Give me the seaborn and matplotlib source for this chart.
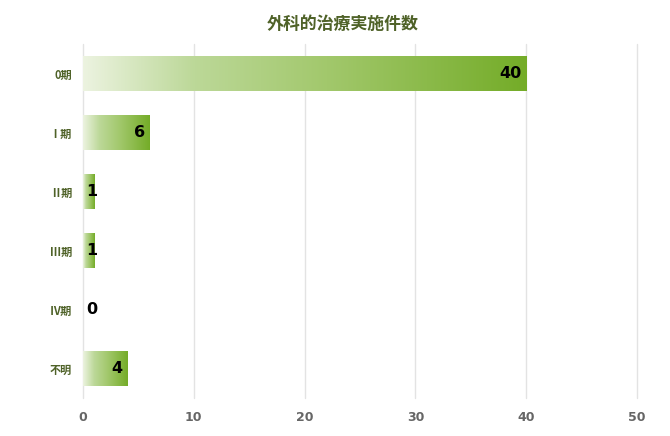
import numpy as np
import pandas as pd
import seaborn as sns
import matplotlib
matplotlib.use('Agg')
import matplotlib.pyplot as plt
from matplotlib.colors import LinearSegmentedColormap

stages = ['0期', 'Ⅰ期', 'Ⅱ期', 'Ⅲ期', 'Ⅳ期', '不明']
counts = [40, 6, 1, 1, 0, 4]
x_ticks = [0, 10, 20, 30, 40, 50]

df = pd.DataFrame({'stage': stages, 'count': counts})

sns.set_theme(style='white')
plt.rcParams['font.family'] = ['Noto Sans CJK JP', 'DejaVu Sans']

green = LinearSegmentedColormap.from_list(
    'grad', [(0.0, '#ecf3e0'), (0.25, '#bcd898'), (0.55, '#a2c86c'), (1.0, '#74ac28')])

fig = plt.figure(figsize=(6.7, 4.36), dpi=100)
ax = fig.add_axes([83 / 670, 1 - 398 / 436, 554 / 670, 354 / 436])

sns.barplot(data=df, x='count', y='stage', orient='h', width=0.58,
            color='#8fbf4f', ax=ax)

grad = np.linspace(0, 1, 256).reshape(1, -1)
for bar in ax.patches:
    x0, y0 = bar.get_x(), bar.get_y()
    w, h = bar.get_width(), bar.get_height()
    if w <= 0:
        bar.set_visible(False)
        continue
    bar.set_facecolor('none')
    bar.set_edgecolor('none')
    im = ax.imshow(grad, cmap=green, aspect='auto', extent=[x0, x0 + w, y0 + h, y0],
                   zorder=2, interpolation='bilinear')
    im.set_clip_path(bar)

for i, v in enumerate(counts):
    ax.text(max(v - 0.4, 1.3), i, str(v), ha='right', va='center',
            fontsize=11.5, fontweight='bold', color='black', family='DejaVu Sans', zorder=3)

ax.set_xlim(0, 50)
ax.set_ylim(5.5, -0.5)
ax.set_xticks(x_ticks)
ax.set_xticklabels([str(t) for t in x_ticks], fontsize=9, fontweight='bold',
                   color='#666666', family='DejaVu Sans')
ax.set_yticklabels(stages, fontsize=8, fontweight='bold', color='#4f6228')
ax.tick_params(axis='x', length=0, pad=9)
ax.tick_params(axis='y', length=0, pad=8)
ax.xaxis.grid(True, color='#e3e3e3', linewidth=1)
for gl in ax.get_xgridlines():
    gl.set_clip_on(False)
ax.set_axisbelow(True)
for s in ax.spines.values():
    s.set_visible(False)
ax.set_xlabel('')
ax.set_ylabel('')

fig.text(343 / 670, 1 - 24 / 436, '外科的治療実施件数', ha='center', va='center',
         fontsize=12.2, fontweight='bold', color='#4f6228')

fig.savefig('out.png', dpi=100)
